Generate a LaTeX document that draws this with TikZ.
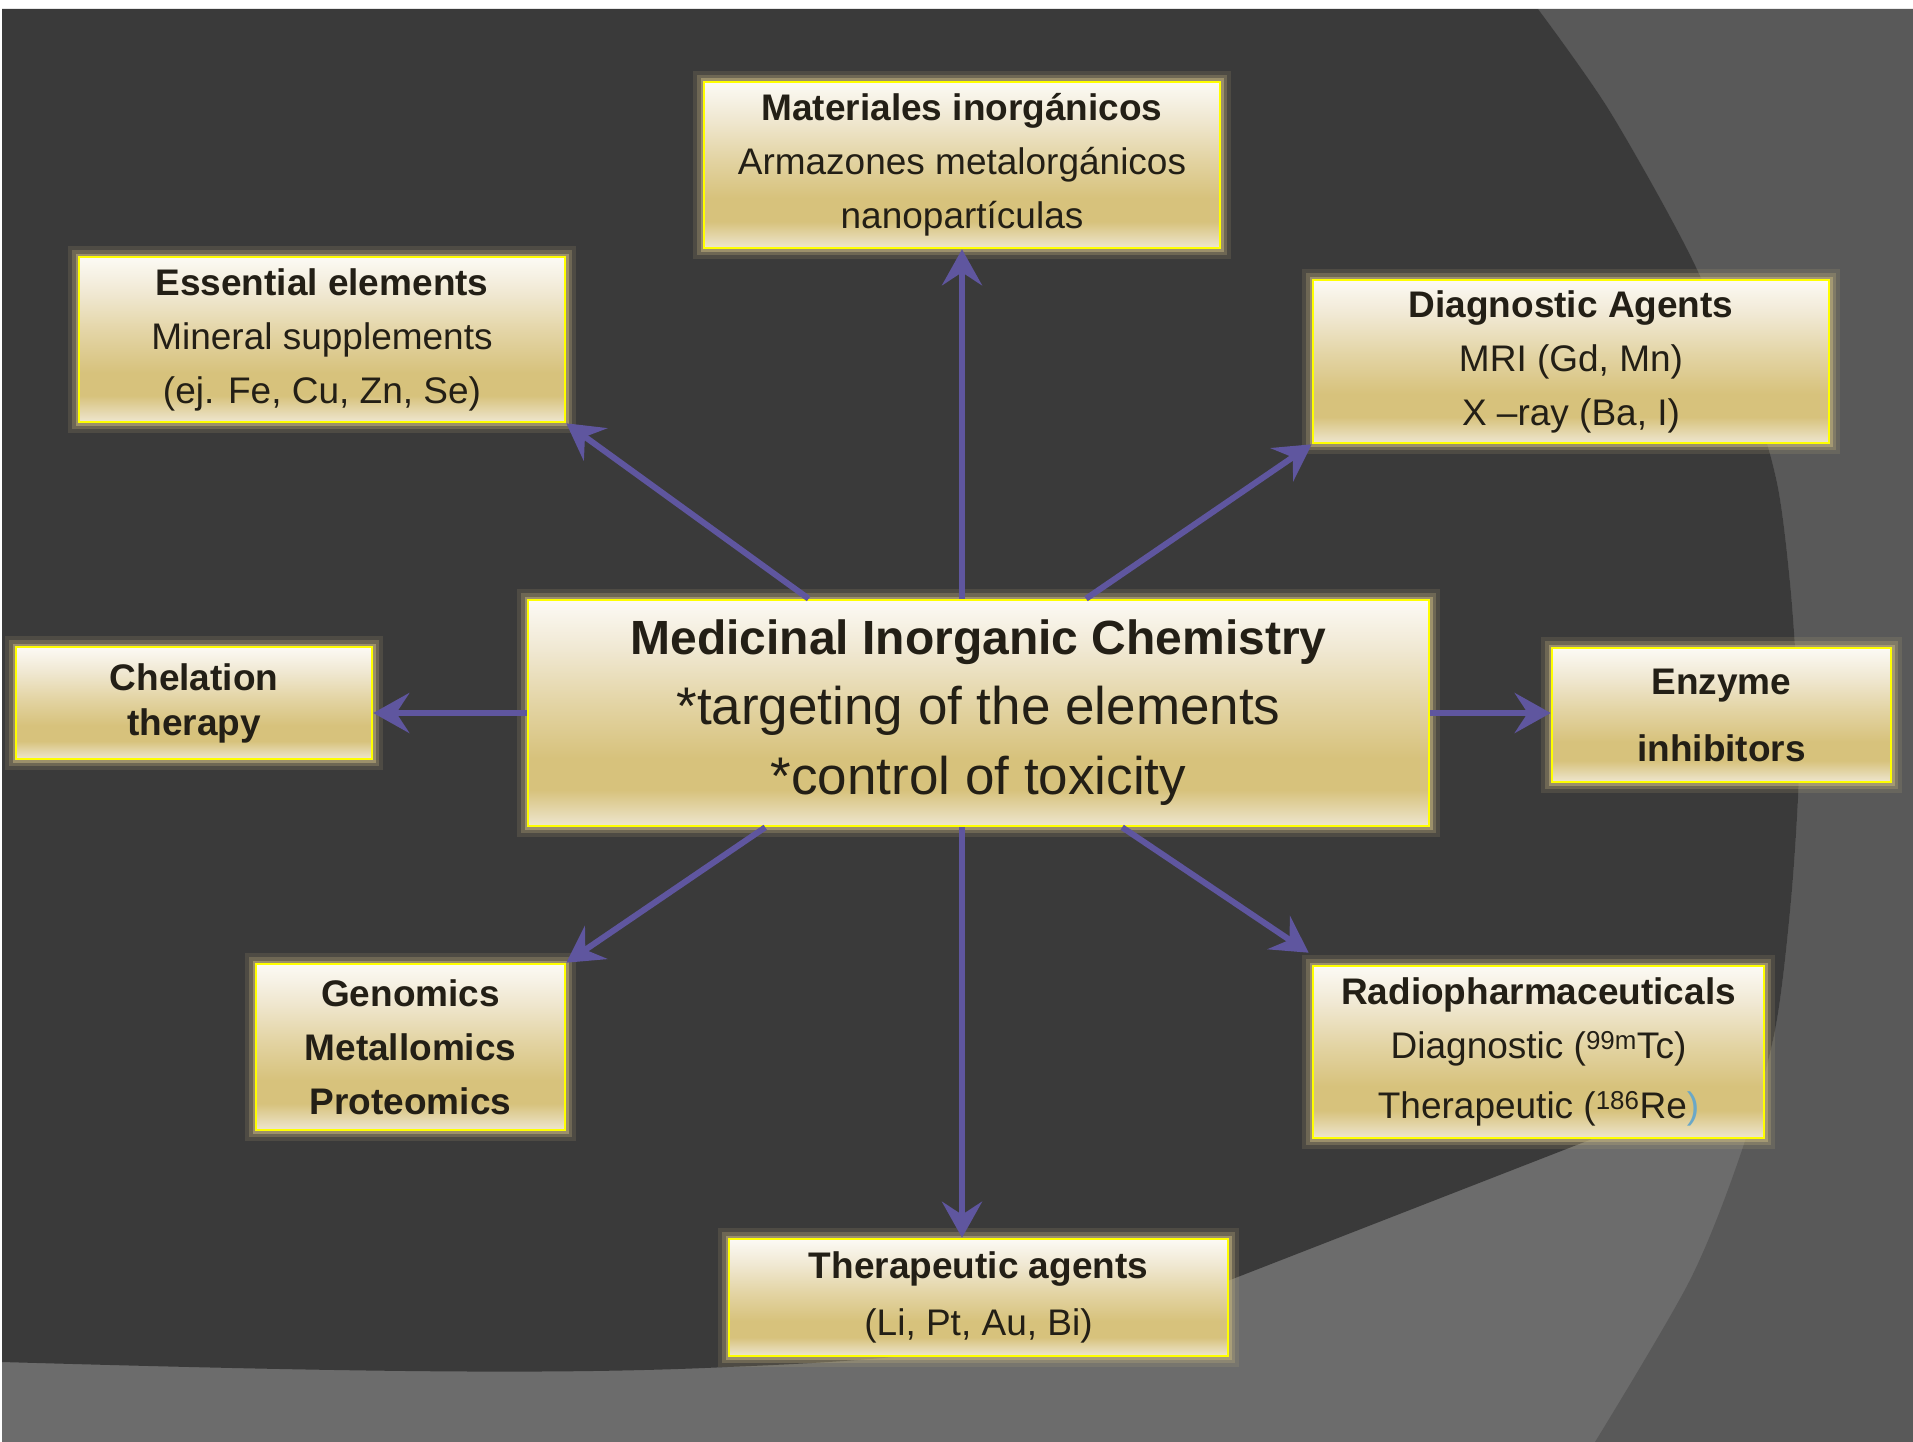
\documentclass[tikz,border=0pt]{standalone}
\usepackage{fontspec}
\setmainfont{Liberation Sans}
\usetikzlibrary{arrows.meta,calc}
\definecolor{darkbg}{HTML}{3A3A3A}
\definecolor{lightbg}{HTML}{6C6C6C}
\definecolor{arcbg}{HTML}{595959}
\definecolor{arrowc}{HTML}{5F569F}
\definecolor{boxyellow}{HTML}{FFFF00}
\definecolor{glowc}{HTML}{C2B27E}
\definecolor{textc}{HTML}{231F16}
\definecolor{gT}{HTML}{FCFAF5}
\definecolor{gU}{HTML}{F0E8D2}
\definecolor{gM}{HTML}{E3D4A4}
\definecolor{gG}{HTML}{D7C27C}
\definecolor{gB}{HTML}{EEE6CF}
\definecolor{bluep}{HTML}{6AA8C8}
\pgfdeclareverticalshading{goldbox}{100bp}{color(0bp)=(gB); color(25bp)=(gB); color(33bp)=(gG); color(40bp)=(gG); color(52bp)=(gM); color(64bp)=(gU); color(75bp)=(gT); color(100bp)=(gT)}
\tikzset{
  gbox/.style={shading=goldbox, draw=boxyellow, line width=2.6pt, inner sep=0pt,
    text=textc, align=center, font=\fontsize{37}{54}\selectfont,
    preaction={draw=glowc, line width=22pt, opacity=0.15},
    preaction={draw=glowc, line width=14pt, opacity=0.28},
    preaction={draw=glowc, line width=7pt, opacity=0.55}},
  arr/.style={draw=arrowc, line width=6pt, -{Stealth[length=36pt, width=40pt, inset=13pt]}}
}
\begin{document}
\begin{tikzpicture}[x=1pt, y=-1pt]
% background
\fill[white] (0,0) rectangle (1913,1442);
\fill[lightbg] (2,9) rectangle (1913,1442);
\fill[arcbg] (1913,9) -- plot[smooth] coordinates {(1538,9) (1609,110) (1690,255) (1750,393) (1777,483) (1790,583) (1797,683) (1799,773) (1791,900) (1775,1030) (1742,1150) (1690,1280) (1595,1442)} -- (1913,1442) -- cycle;
\begin{scope}
  \clip (2,9) -- plot[smooth] coordinates {(1538,9) (1609,110) (1690,255) (1750,393) (1777,483) (1790,583) (1797,683) (1799,773) (1791,900) (1775,1030) (1742,1150) (1690,1280) (1595,1442)} -- (2,1442) -- cycle;
  \fill[darkbg] (2,9) -- (1913,9) -- (1913,1014) -- (1230,1280)
    .. controls (1050,1350) and (900,1360) .. (727,1367)
    .. controls (560,1375) and (350,1372) .. (2,1362) -- cycle;
\end{scope}

% boxes
\node[gbox, minimum width=516pt, minimum height=166pt] (mat) at (962,165)
  {\textbf{Materiales inorgánicos}\\Armazones metalorgánicos\\nanopartículas};
\node[gbox, minimum width=486pt, minimum height=165pt] (ess) at (322,339.5)
  {\textbf{Essential elements}\\Mineral supplements\\(ej. Fe, Cu, Zn, Se)};
\node[gbox, minimum width=516pt, minimum height=163pt] (diag) at (1571,361.5)
  {\textbf{Diagnostic Agents}\\MRI (Gd, Mn)\\X –ray (Ba, I)};
\node[gbox, minimum width=901pt, minimum height=226pt, font=\fontsize{53}{70}\selectfont] (center) at (978.5,713)
  {{\fontsize{48}{70}\selectfont\bfseries Medicinal Inorganic Chemistry}\\*targeting of the elements\\*control of toxicity};
\node[gbox, minimum width=356pt, minimum height=112pt, font=\fontsize{37}{45}\selectfont\bfseries] (chel) at (194,703)
  {Chelation\\therapy};
\node[gbox, minimum width=339pt, minimum height=134pt, font=\fontsize{37}{67}\selectfont\bfseries] (enz) at (1721.5,715)
  {Enzyme\\inhibitors};
\node[gbox, minimum width=309pt, minimum height=166pt, font=\fontsize{37}{54}\selectfont\bfseries] (gen) at (410.5,1047)
  {Genomics\\Metallomics\\Proteomics};
\node[gbox, minimum width=451pt, minimum height=172pt] (radio) at (1538.5,1052)
  {\textbf{Radiopharmaceuticals}\\Diagnostic (\textsuperscript{99m}Tc)\\[6pt]Therapeutic (\textsuperscript{186}Re\textcolor{bluep}{)}};
\node[gbox, minimum width=499pt, minimum height=117pt, font=\fontsize{37}{57}\selectfont] (ther) at (978.5,1297.5)
  {\textbf{Therapeutic agents}\\(Li, Pt, Au, Bi)};

% connectors
\draw[arr] (mat.south |- center.north) -- (mat.south);
\draw[arr] (mat.south |- center.south) -- (mat.south |- ther.north);
\draw[arr] (center.west) -- (center.west -| chel.east);
\draw[arr] (center.east) -- (center.east -| enz.west);
\draw[arr] ($(center.north west)!0.312!(center.north east)$) -- (ess.south east);
\draw[arr] ($(center.north west)!0.619!(center.north east)$) -- (diag.south west);
\draw[arr] ($(center.south west)!0.264!(center.south east)$) -- (gen.north east);
\draw[arr] ($(center.south west)!0.659!(center.south east)$) -- ($(radio.north west)+(-3,-12)$);
\end{tikzpicture}
\end{document}
